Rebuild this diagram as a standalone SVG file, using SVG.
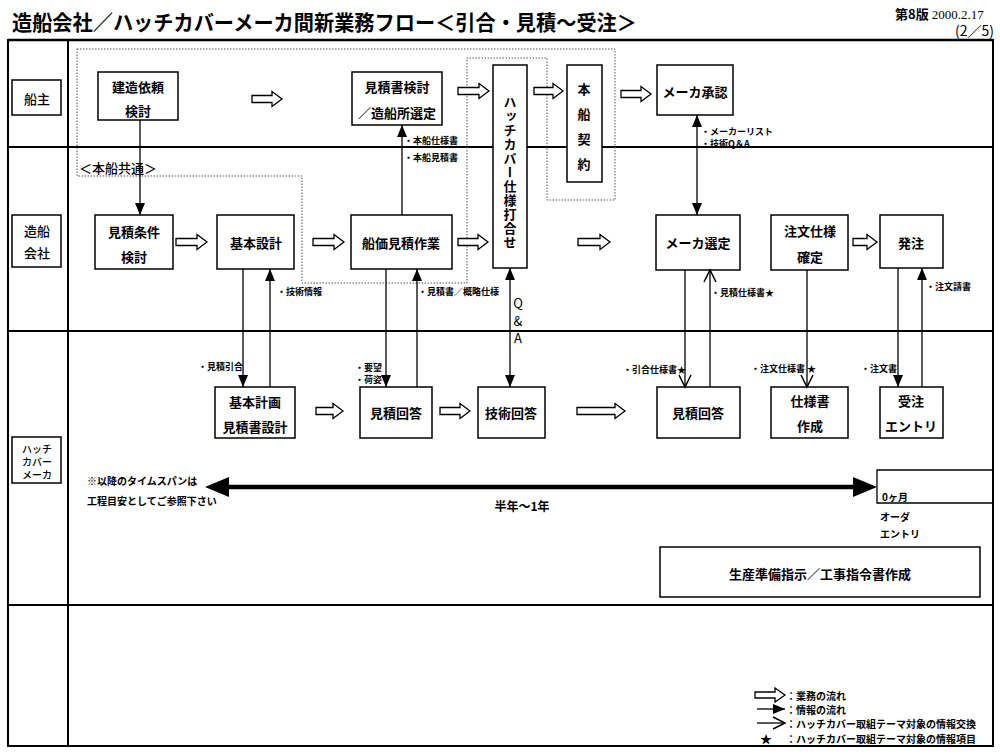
<svg xmlns="http://www.w3.org/2000/svg" width="1000" height="755" viewBox="0 0 1000 755">
<defs>
<style>
text{font-family:"Noto Sans CJK JP","Noto Sans",sans-serif;fill:#000}
.t{font-size:13px;font-weight:700;text-anchor:middle;dominant-baseline:central}
.lane{font-size:13px;font-weight:500;text-anchor:middle;dominant-baseline:central}
.lane3{font-size:10px;font-weight:500;text-anchor:middle;dominant-baseline:central}
.s{font-size:9px;font-weight:700;dominant-baseline:central}
.box{fill:#fff;stroke:#000;stroke-width:1.5}
.frame{fill:none;stroke:#000;stroke-width:2}
.ba{fill:#fff;stroke:#000;stroke-width:1.3}
.ln{fill:none;stroke:#000;stroke-width:1.3}
.dot{fill:none;stroke:#555;stroke-width:1;stroke-dasharray:1.5 1.5}
</style>
<marker id="fa" markerUnits="userSpaceOnUse" markerWidth="12" markerHeight="10" refX="12" refY="5" orient="auto-start-reverse" overflow="visible">
<path d="M0,0 L12,5 L0,10 Z" fill="#000"/>
</marker>
<marker id="oa" markerUnits="userSpaceOnUse" markerWidth="13" markerHeight="12" refX="12" refY="6" orient="auto" overflow="visible">
<path d="M0,0 L12,6 L0,12" fill="none" stroke="#000" stroke-width="1.5"/>
</marker>
</defs>
<rect width="1000" height="755" fill="#fff"/>

<!-- header -->
<text x="12" y="30" font-size="21" font-weight="700" textLength="625" lengthAdjust="spacingAndGlyphs">造船会社／ハッチカバーメーカ間新業務フロー＜引合・見積～受注＞</text>
<text x="895" y="19" font-size="13" font-weight="700">第8版 <tspan font-family="Liberation Serif,serif" font-weight="400">2000.2.17</tspan></text>
<text x="955" y="36" font-size="14" font-weight="400">(2／5)</text>

<!-- frame and lanes -->
<g id="frame">
<rect class="frame" x="8" y="40" width="985" height="706"/>
<line x1="8" y1="40" x2="993" y2="40" stroke="#000" stroke-width="2.5"/>
<line class="frame" x1="68" y1="40" x2="68" y2="746"/>
<line class="frame" x1="8" y1="147" x2="993" y2="147" stroke-width="1.5"/>
<line class="frame" x1="8" y1="331" x2="993" y2="331" stroke-width="1.5"/>
<line class="frame" x1="8" y1="605" x2="993" y2="605" stroke-width="1.5"/>
</g>

<g id="lane-owner"><rect class="box" x="12" y="80" width="49" height="35"/><text class="lane" x="37" y="98">船主</text></g>
<g id="lane-yard"><rect class="box" x="12" y="215" width="49" height="52"/><text class="lane" x="37" y="230">造船</text><text class="lane" x="37" y="252">会社</text></g>
<g id="lane-maker"><rect class="box" x="12" y="437" width="49" height="46"/><text class="lane3" x="37" y="448">ハッチ</text><text class="lane3" x="37" y="461">カバー</text><text class="lane3" x="37" y="474">メーカ</text></g>

<!-- dotted grouping -->
<g id="group-common">
<path class="dot" d="M77,49 H615 V200 H547 V58 H467 V283 H302 V176 H77 Z"/>
<text x="79" y="167" font-size="13" font-weight="500" dominant-baseline="central">＜本船共通＞</text>
</g>

<!-- nodes -->
<g id="n-kenzo"><rect class="box" x="98" y="72" width="80" height="48"/><text class="t" x="138" y="86">建造依頼</text><text class="t" x="138" y="110">検討</text></g>
<g id="n-mitsumorisho"><rect class="box" x="352" y="72" width="90" height="53"/><text class="t" x="397" y="86">見積書検討</text><text class="t" x="397" y="112">／造船所選定</text></g>
<g id="n-hatch"><rect class="box" x="493" y="65" width="34" height="203"/><text x="510" y="96" font-size="13" font-weight="700" writing-mode="vertical-rl" letter-spacing="1" style="text-orientation:upright">ハッチカバー仕様打合せ</text></g>
<g id="n-keiyaku"><rect class="box" x="567" y="65" width="35" height="117"/><text class="t" x="584" y="88">本</text><text class="t" x="584" y="113">船</text><text class="t" x="584" y="138">契</text><text class="t" x="584" y="163">約</text></g>
<g id="n-shonin"><rect class="box" x="657" y="65" width="76" height="50"/><text class="t" x="695" y="91">メーカ承認</text></g>

<g id="n-joken"><rect class="box" x="95" y="215" width="78" height="54"/><text class="t" x="134" y="231">見積条件</text><text class="t" x="134" y="256">検討</text></g>
<g id="n-kihon"><rect class="box" x="217" y="215" width="77" height="54"/><text class="t" x="256" y="242">基本設計</text></g>
<g id="n-senka"><rect class="box" x="351" y="215" width="101" height="54"/><text class="t" x="401" y="242">船価見積作業</text></g>
<g id="n-sentei"><rect class="box" x="656" y="215" width="84" height="55"/><text class="t" x="698" y="242">メーカ選定</text></g>
<g id="n-chumonshiyo"><rect class="box" x="771" y="215" width="77" height="55"/><text class="t" x="810" y="230">注文仕様</text><text class="t" x="810" y="256">確定</text></g>
<g id="n-hatchu"><rect class="box" x="880" y="215" width="63" height="53"/><text class="t" x="911" y="242">発注</text></g>

<g id="n-keikaku"><rect class="box" x="215" y="387" width="80" height="51"/><text class="t" x="255" y="401">基本計画</text><text class="t" x="255" y="426">見積書設計</text></g>
<g id="n-kaito1"><rect class="box" x="360" y="387" width="72" height="51"/><text class="t" x="396" y="412">見積回答</text></g>
<g id="n-gijutsu"><rect class="box" x="478" y="387" width="67" height="51"/><text class="t" x="511" y="412">技術回答</text></g>
<g id="n-kaito2"><rect class="box" x="657" y="387" width="83" height="51"/><text class="t" x="698" y="412">見積回答</text></g>
<g id="n-shiyosho"><rect class="box" x="771" y="387" width="77" height="51"/><text class="t" x="810" y="400">仕様書</text><text class="t" x="810" y="425">作成</text></g>
<g id="n-juchu"><rect class="box" x="880" y="387" width="63" height="51"/><text class="t" x="911" y="400">受注</text><text class="t" x="911" y="425">エントリ</text></g>

<g id="n-seisan"><rect class="box" x="660" y="547" width="320" height="50"/><text class="t" x="820" y="573">生産準備指示／工事指令書作成</text></g>

<!-- connectors -->
<g id="connectors">
<path class="ba" d="M252,95.5 H272 V91.5 L282,99 L272,106.5 V102.5 H252 Z"/>
<path class="ba" d="M458,87.5 H479 V83.5 L489,91 L479,98.5 V94.5 H458 Z"/>
<path class="ba" d="M534,87.5 H553 V83.5 L563,91 L553,98.5 V94.5 H534 Z"/>
<path class="ba" d="M621,90.5 H641 V86.5 L651,94 L641,101.5 V97.5 H621 Z"/>
<path class="ba" d="M176,238.5 H197 V234.5 L207,242 L197,249.5 V245.5 H176 Z"/>
<path class="ba" d="M313,238.5 H334 V234.5 L344,242 L334,249.5 V245.5 H313 Z"/>
<path class="ba" d="M458,238.5 H478 V234.5 L488,242 L478,249.5 V245.5 H458 Z"/>
<path class="ba" d="M578,238.5 H600 V234.5 L610,242 L600,249.5 V245.5 H578 Z"/>
<path class="ba" d="M853,238.5 H867 V234.5 L877,242 L867,249.5 V245.5 H853 Z"/>
<path class="ba" d="M316,407.5 H333 V403.5 L343,411 L333,418.5 V414.5 H316 Z"/>
<path class="ba" d="M440,407.5 H460 V403.5 L470,411 L460,418.5 V414.5 H440 Z"/>
<path class="ba" d="M577,407.5 H615 V403.5 L625,411 L615,418.5 V414.5 H577 Z"/>

<line class="ln" x1="140" y1="120" x2="140" y2="215" marker-end="url(#fa)"/>
<line class="ln" x1="243" y1="269" x2="243" y2="387" marker-end="url(#fa)"/>
<line class="ln" x1="270" y1="387" x2="270" y2="269" marker-end="url(#fa)"/>
<line class="ln" x1="386" y1="269" x2="386" y2="387" marker-end="url(#fa)"/>
<line class="ln" x1="417" y1="387" x2="417" y2="269" marker-end="url(#fa)"/>
<line class="ln" x1="402" y1="215" x2="402" y2="125" marker-end="url(#fa)"/>
<line class="ln" x1="510" y1="268" x2="510" y2="387" marker-start="url(#fa)" marker-end="url(#fa)"/>
<line class="ln" x1="697" y1="115" x2="697" y2="215" marker-start="url(#fa)" marker-end="url(#fa)"/>
<line class="ln" x1="685" y1="270" x2="685" y2="387" marker-end="url(#oa)"/>
<line class="ln" x1="710" y1="387" x2="710" y2="270" marker-end="url(#oa)"/>
<line class="ln" x1="807" y1="270" x2="807" y2="387" marker-end="url(#oa)"/>
<line class="ln" x1="898" y1="268" x2="898" y2="387" marker-end="url(#fa)"/>
<line class="ln" x1="922" y1="387" x2="922" y2="268" marker-end="url(#fa)"/>

<line x1="224" y1="487" x2="858" y2="487" stroke="#000" stroke-width="4.5"/>
<path d="M205,487 L229,477 L229,497 Z"/>
<path d="M877,487 L853,477 L853,497 Z"/>
</g>

<!-- connector labels -->
<g id="labels">
<text class="s" x="404" y="140">・本船仕様書</text>
<text class="s" x="404" y="157">・本船見積書</text>
<text class="s" x="701" y="131">・メーカーリスト</text>
<text class="s" x="701" y="143">・技術Q＆A</text>
<text class="s" x="277" y="291">・技術情報</text>
<text class="s" x="418" y="291">・見積書／概略仕様</text>
<text x="518" y="302" font-family="Liberation Serif,serif" font-size="13" text-anchor="middle" dominant-baseline="central">Q</text>
<text x="518" y="320" font-family="Liberation Serif,serif" font-size="13" text-anchor="middle" dominant-baseline="central">&amp;</text>
<text x="518" y="337" font-family="Liberation Serif,serif" font-size="13" text-anchor="middle" dominant-baseline="central">A</text>
<text class="s" x="198" y="366">・見積引合</text>
<text class="s" x="355" y="367">・要望</text>
<text class="s" x="355" y="379">・荷姿</text>
<text class="s" x="711" y="292">・見積仕様書★</text>
<text class="s" x="623" y="369">・引合仕様書★</text>
<text class="s" x="751" y="368">・注文仕様書 ★</text>
<text class="s" x="861" y="368">・注文書</text>
<text class="s" x="926" y="286">・注文請書</text>
<text x="87" y="480" font-size="10" font-weight="700" dominant-baseline="central">※以降のタイムスパンは</text>
<text x="87" y="500" font-size="10" font-weight="700" dominant-baseline="central">工程目安としてご参照下さい</text>
<text x="522" y="505" font-size="12" font-weight="700" text-anchor="middle" dominant-baseline="central">半年～1年</text>
</g>

<g id="n-zero">
<path d="M993,470 H877 V503 H993" fill="none" stroke="#000" stroke-width="1.3"/>
<text x="882" y="496" font-size="10" font-weight="700" dominant-baseline="central">0ヶ月</text>
<text x="880" y="516" font-size="10" font-weight="700" dominant-baseline="central">オーダ</text>
<text x="880" y="533" font-size="10" font-weight="700" dominant-baseline="central">エントリ</text>
</g>

<!-- legend -->
<g id="legend">
<path class="ba" d="M755,692 H775 V688 L785,695 L775,702 V698 H755 Z"/>
<line class="ln" x1="757" y1="709" x2="785" y2="709" marker-end="url(#fa)"/>
<line class="ln" x1="757" y1="723" x2="785" y2="723" marker-end="url(#oa)"/>
<text x="766" y="738" font-size="12" text-anchor="middle" dominant-baseline="central">★</text>
<text x="786" y="695" font-size="10" font-weight="700" dominant-baseline="central">：業務の流れ</text>
<text x="786" y="709" font-size="10" font-weight="700" dominant-baseline="central">：情報の流れ</text>
<text x="786" y="723" font-size="10" font-weight="700" dominant-baseline="central">：ハッチカバー取組テーマ対象の情報交換</text>
<text x="786" y="738" font-size="10" font-weight="700" dominant-baseline="central">：ハッチカバー取組テーマ対象の情報項目</text>
</g>
</svg>
